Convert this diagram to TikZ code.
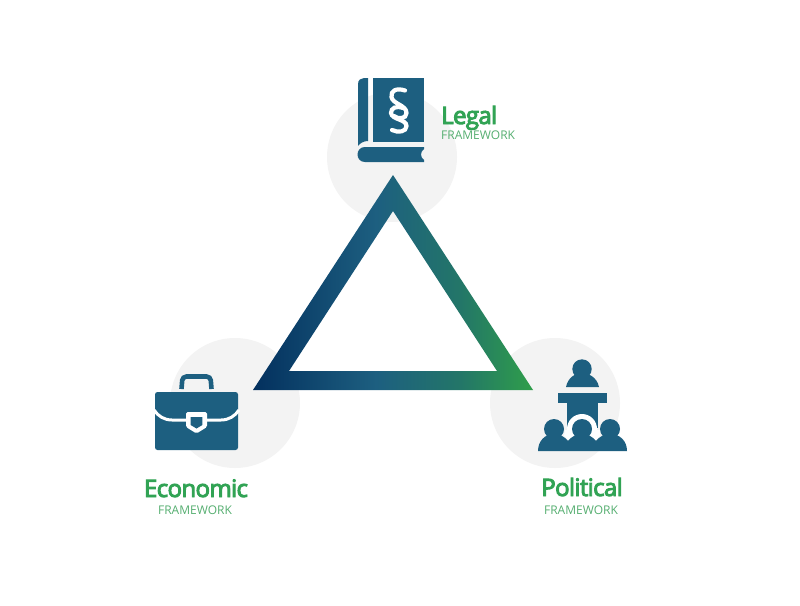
\documentclass[tikz,border=0pt]{standalone}
\usepackage{fontspec}
\setmainfont{Open Sans}
\newfontfamily\titlefont[FakeBold=4, LetterSpace=-2.6]{Open Sans}
\usepackage{tikz}
\usetikzlibrary{positioning}

\definecolor{iconblue}{HTML}{1D5F80}
\definecolor{discgrey}{HTML}{F3F3F3}
\definecolor{titlegreen}{HTML}{31A354}
\definecolor{subgreen}{HTML}{55AE70}
\definecolor{fadenavy}{HTML}{03305E}
\definecolor{fadeteal}{HTML}{237668}
\definecolor{fadegreen}{HTML}{2F9E4A}
\pgfdeclarehorizontalshading{trianglefade}{100bp}{color(0bp)=(fadenavy); color(25bp)=(fadenavy); color(47bp)=(iconblue); color(62bp)=(fadeteal); color(75bp)=(fadegreen); color(100bp)=(fadegreen)}

\begin{document}
\begin{tikzpicture}[x=1pt, y=-1pt, node distance=0pt,
  backdisc/.style={circle, fill=discgrey, minimum size=130pt, inner sep=0pt},
  maintitle/.style={font=\fontsize{24}{24}\selectfont\titlefont, text=titlegreen, inner sep=0pt},
  subtitle/.style={font=\fontsize{12}{12}\selectfont, text=subgreen, inner sep=0pt}]
\useasboundingbox (0,0) rectangle (800,605);

\node[backdisc] (legaldisc) at (392,157) {};
\node[backdisc] (econdisc) at (235,403) {};
\node[backdisc] (polidisc) at (555,403) {};

% triangle
\shade[shading=trianglefade, even odd rule] (393,175) -- (533,390) -- (253,390) -- cycle
  (393,211) -- (289,371) -- (497,371) -- cycle;

% book
\fill[iconblue] (368,78) -- (368,141) .. controls (364,141) and (360,143) .. (358,146) -- (358,84)
  .. controls (358,80) and (361,78) .. (364,78) -- cycle;
\fill[iconblue] (373,78) -- (424,78) -- (424,142) -- (373,142) -- cycle;
\fill[iconblue] (365,147) -- (424,147) -- (424,149) .. controls (420,152) and (420,157) .. (424,160)
  -- (424,162) -- (365,162) .. controls (355,162) and (355,147) .. (365,147) -- cycle;
\draw[white, line width=4.2pt, line cap=round] (405,90.5) .. controls (396,87.5) and (390.5,91) .. (391.5,97)
  .. controls (392.5,104) and (406.5,105) .. (406.5,113) .. controls (406.5,119) and (398,119.5) .. (394,116);
\draw[white, line width=4.2pt, line cap=round] (403,108) .. controls (396,105.5) and (391,108) .. (391,113)
  .. controls (392,120) and (406.5,119) .. (406.5,126) .. controls (406.5,132) and (398,133) .. (392,130);

% briefcase
\draw[iconblue, line width=4.6pt, rounded corners=4pt] (181.5,389) -- (182.5,376.5) -- (210.5,376.5) -- (211.5,389);
\fill[iconblue, rounded corners=2.5pt] (155,392) rectangle (238,450);
\draw[white, line width=3pt] (154,410) .. controls (158,416) and (164,420) .. (172,420) -- (221,420)
  .. controls (229,420) and (235,416) .. (239,410);
\fill[white, rounded corners=1.5pt] (186,412) -- (207,412) -- (207,427) -- (196.5,433.5) -- (186,427) -- cycle;
\fill[iconblue] (190.6,417) -- (202.4,417) -- (202.4,425) -- (196.5,428.5) -- (190.6,425) -- cycle;

% speaker and audience
\fill[iconblue] (582,369) circle (9.7pt);
\fill[iconblue] (566,387) .. controls (568,377) and (576,373) .. (582,373) .. controls (588,373) and (597,377) .. (599,387) -- cycle;
\fill[iconblue] (558,393) rectangle (607,403);
\fill[iconblue] (567,403) rectangle (598,428);
\fill[white] (582,429) circle (15pt);
\fill[white] (565,430) -- (600,430) -- (600,436) -- (595,441) -- (590,436) -- (574,436) -- (569,441) -- (564,436) -- cycle;
\fill[iconblue] (538,451) .. controls (538,441) and (545,434) .. (554,434)
  .. controls (560,434) and (565,437) .. (568,441) .. controls (571,437) and (576,434) .. (582,434)
  .. controls (588,434) and (593,437) .. (596,441) .. controls (599,437) and (604,434) .. (610,434)
  .. controls (620,434) and (627,441) .. (627,451) -- cycle;
\fill[iconblue] (554,429) circle (10pt) (582,429) circle (10pt) (610,429) circle (10pt);

% labels
\node[maintitle, anchor=base west] (legaltitle) at (441,124) {Legal};
\node[subtitle, anchor=base west] (legalsub) at (441,139.5) {FRAMEWORK};
\node[maintitle, anchor=base] (econtitle) at (196,497) {Economic};
\node[subtitle, anchor=base] (econsub) at (195,514) {FRAMEWORK};
\node[maintitle, anchor=base] (polititle) at (582,496) {Political};
\node[subtitle, anchor=base] (polisub) at (581,514) {FRAMEWORK};
\end{tikzpicture}
\end{document}
